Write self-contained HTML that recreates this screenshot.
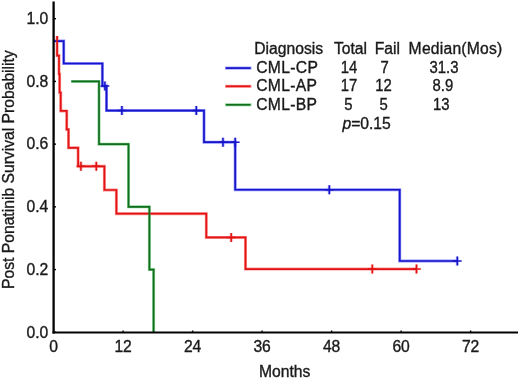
<!DOCTYPE html>
<html><head><meta charset="utf-8"><title>Survival</title>
<style>
html,body{margin:0;padding:0;background:#fff;}
body{width:520px;height:379px;overflow:hidden;}
svg{display:block;opacity:0.999;will-change:transform;}
text{font-family:"Liberation Sans",sans-serif;font-size:15.6px;fill:#1a1a1a;stroke:#1a1a1a;stroke-width:0.35px;}
</style></head><body>
<svg width="520" height="379" viewBox="0 0 520 379">
<g fill="none" stroke-linejoin="miter" stroke-linecap="butt">
<g opacity="0.55" stroke-width="3.0">
<path d="M53.6,41.1 H63.7 V63.5 H102.4 V85.9 H106.5 V110.54 H204.0 V142.22 H235.2 V189.74 H399.7 V261.02 H457.3" stroke="#3838ff"/>
<path d="M57.1,36.0 V55.59 H59.0 V74.04 H59.6 V92.49 H60.7 V110.94 H66.7 V129.38 H68.5 V147.83 H78.1 V166.28 H104.4 V189.99 H116.4 V213.71 H206.3 V237.43 H245.5 V269.05 H416.5" stroke="#ff3c3c"/>
<path d="M71.3,81.42 H99.0 V144.14 H128.5 V206.86 H149.4 V269.58 H153.6 V332.3" stroke="#38b048"/>
<path d="M225.0,68.1H251.4" stroke="#3838ff"/>
<path d="M225.0,86.3H251.4" stroke="#ff3c3c"/>
<path d="M225.0,104.8H251.4" stroke="#38b048"/>
</g>
<g opacity="0.4">
<path d="M104.9,81.4V90.4 M121.9,106.04V115.04 M196.3,106.04V115.04 M223.0,137.72V146.72 M235.2,137.72V146.72 M329.3,185.24V194.24 M457.3,256.52V265.52" stroke="#3838ff" stroke-width="3"/>
<path d="M80.9,161.78V170.78 M96.3,161.78V170.78 M231.2,232.93V241.93 M372.3,264.55V273.55 M416.5,264.55V273.55" stroke="#ff3c3c" stroke-width="3"/>
</g>
<path d="M53.6,41.1 H63.7 V63.5 H102.4 V85.9 H106.5 V110.54 H204.0 V142.22 H235.2 V189.74 H399.7 V261.02 H457.3" stroke="#1616c8" stroke-width="1.7"/>
<path d="M104.9,81.4V90.4M100.5,85.9H109.30000000000001 M121.9,106.04V115.04M117.5,110.54H126.30000000000001 M196.3,106.04V115.04M191.9,110.54H200.70000000000002 M223.0,137.72V146.72M218.6,142.22H227.4 M235.2,137.72V146.72M230.79999999999998,142.22H239.6 M329.3,185.24V194.24M324.90000000000003,189.74H333.7 M457.3,256.52V265.52M452.90000000000003,261.02H461.7" stroke="#1616c8" stroke-width="1.5"/>
<path d="M57.1,36.0 V55.59 H59.0 V74.04 H59.6 V92.49 H60.7 V110.94 H66.7 V129.38 H68.5 V147.83 H78.1 V166.28 H104.4 V189.99 H116.4 V213.71 H206.3 V237.43 H245.5 V269.05 H416.5" stroke="#e01414" stroke-width="1.7"/>
<path d="M80.9,161.78V170.78M76.5,166.28H85.30000000000001 M96.3,161.78V170.78M91.89999999999999,166.28H100.7 M231.2,232.93V241.93M226.79999999999998,237.43H235.6 M372.3,264.55V273.55M367.90000000000003,269.05H376.7 M416.5,264.55V273.55M412.1,269.05H420.9" stroke="#e01414" stroke-width="1.5"/>
<path d="M71.3,81.42 H99.0 V144.14 H128.5 V206.86 H149.4 V269.58 H153.6 V332.3" stroke="#0f6e1c" stroke-width="1.7"/>
<path d="M225.9,68.1H250.6" stroke="#1616c8" stroke-width="1.7"/>
<path d="M225.9,86.3H250.6" stroke="#e01414" stroke-width="1.7"/>
<path d="M225.9,104.8H250.6" stroke="#0f6e1c" stroke-width="1.7"/>
</g>
<path d="M53.6,1.5V333.6" stroke="#000" stroke-width="2.3" fill="none"/>
<path d="M52.5,332.5H518" stroke="#000" stroke-width="2.2" fill="none"/>
<text transform="translate(48.3,24.0) scale(1.006,1)" text-anchor="end">1.0</text>
<line x1="53.6" x2="56" y1="18.7" y2="18.7" stroke="#000" stroke-width="1.4"/>
<text transform="translate(48.3,86.7) scale(1.006,1)" text-anchor="end">0.8</text>
<line x1="53.6" x2="56" y1="81.42" y2="81.42" stroke="#000" stroke-width="1.4"/>
<text transform="translate(48.3,149.4) scale(1.006,1)" text-anchor="end">0.6</text>
<line x1="53.6" x2="56" y1="144.14" y2="144.14" stroke="#000" stroke-width="1.4"/>
<text transform="translate(48.3,212.2) scale(1.006,1)" text-anchor="end">0.4</text>
<line x1="53.6" x2="56" y1="206.86" y2="206.86" stroke="#000" stroke-width="1.4"/>
<text transform="translate(48.3,274.9) scale(1.006,1)" text-anchor="end">0.2</text>
<line x1="53.6" x2="56" y1="269.58" y2="269.58" stroke="#000" stroke-width="1.4"/>
<text transform="translate(48.3,337.6) scale(1.006,1)" text-anchor="end">0.0</text>
<line x1="53.6" x2="56" y1="332.3" y2="332.3" stroke="#000" stroke-width="1.4"/>
<text transform="translate(53.6,352.2) scale(1.006,1)" text-anchor="middle">0</text>
<text transform="translate(123.1,352.2) scale(1.006,1)" text-anchor="middle">12</text>
<line x1="123.1" x2="123.1" y1="330.5" y2="332.5" stroke="#000" stroke-width="1.4"/>
<text transform="translate(192.6,352.2) scale(1.006,1)" text-anchor="middle">24</text>
<line x1="192.6" x2="192.6" y1="330.5" y2="332.5" stroke="#000" stroke-width="1.4"/>
<text transform="translate(262.1,352.2) scale(1.006,1)" text-anchor="middle">36</text>
<line x1="262.1" x2="262.1" y1="330.5" y2="332.5" stroke="#000" stroke-width="1.4"/>
<text transform="translate(331.6,352.2) scale(1.006,1)" text-anchor="middle">48</text>
<line x1="331.6" x2="331.6" y1="330.5" y2="332.5" stroke="#000" stroke-width="1.4"/>
<text transform="translate(401.1,352.2) scale(1.006,1)" text-anchor="middle">60</text>
<line x1="401.1" x2="401.1" y1="330.5" y2="332.5" stroke="#000" stroke-width="1.4"/>
<text transform="translate(470.6,352.2) scale(1.006,1)" text-anchor="middle">72</text>
<line x1="470.6" x2="470.6" y1="330.5" y2="332.5" stroke="#000" stroke-width="1.4"/>

<text transform="translate(284.7,377) scale(1.006,1)" text-anchor="middle">Months</text>
<text transform="translate(13.9,169.6) rotate(-90) scale(1.006,1)" text-anchor="middle">Post Ponatinib Survival Probability</text>
<text transform="translate(254.3,54.2) scale(1.006,1)">Diagnosis</text>
<text transform="translate(333.9,54.2) scale(1.006,1)">Total</text>
<text transform="translate(374.8,54.2) scale(1.006,1)">Fail</text>
<text transform="translate(408.6,54.2) scale(1.006,1)" letter-spacing="0.22">Median(Mos)</text>
<text transform="translate(256.2,72.8) scale(1.006,1)" letter-spacing="0.33">CML-CP</text>
<text transform="translate(256.2,91.2) scale(1.006,1)" letter-spacing="0.33">CML-AP</text>
<text transform="translate(256.2,109.8) scale(1.006,1)" letter-spacing="0.33">CML-BP</text>
<text transform="translate(349,72.8) scale(0.955,1)" text-anchor="middle">14</text>
<text transform="translate(349,91.2) scale(0.955,1)" text-anchor="middle">17</text>
<text transform="translate(348.3,109.8) scale(0.955,1)" text-anchor="middle">5</text>
<text transform="translate(384.6,72.8) scale(0.955,1)" text-anchor="middle">7</text>
<text transform="translate(383.6,91.2) scale(0.955,1)" text-anchor="middle">12</text>
<text transform="translate(383.7,109.8) scale(0.955,1)" text-anchor="middle">5</text>
<text transform="translate(444,72.8) scale(0.955,1)" text-anchor="middle">31.3</text>
<text transform="translate(442.8,91.2) scale(0.955,1)" text-anchor="middle">8.9</text>
<text transform="translate(441.2,109.8) scale(0.955,1)" text-anchor="middle">13</text>
<text transform="translate(342.4,128.6) scale(1.006,1)"><tspan font-style="italic">p</tspan>=0.15</text>
</svg>
</body></html>
